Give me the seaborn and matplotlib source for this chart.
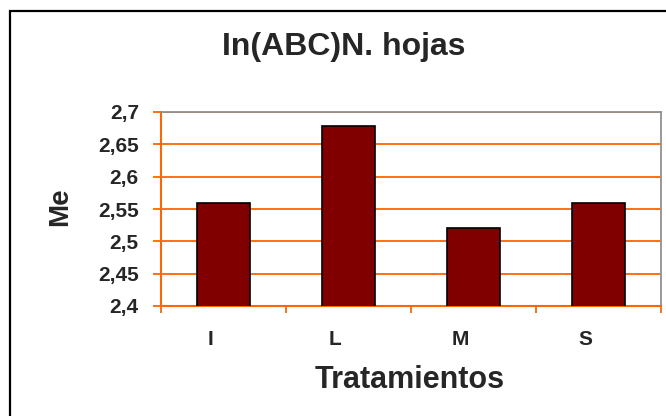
import matplotlib
matplotlib.use("Agg")
import matplotlib.pyplot as plt
import matplotlib.patches as mpatches
import matplotlib.transforms as mtransforms
import seaborn as sns
import pandas as pd
import numpy as np

categories = ["I", "L", "M", "S"]
values = [2.559, 2.678, 2.52, 2.559]
y_ticks = [2.4, 2.45, 2.5, 2.55, 2.6, 2.65, 2.7]
y_tick_labels = ["2,4", "2,45", "2,5", "2,55", "2,6", "2,65", "2,7"]

df = pd.DataFrame({"Tratamientos": categories, "Me": values})

sns.set_theme(style="white")
plt.rcParams['font.family'] = ['Liberation Sans', 'DejaVu Sans']
plt.rcParams['font.weight'] = 'bold'

W, H = 666, 416
fig = plt.figure(figsize=(W / 100, H / 100), dpi=100)
fig.patch.set_facecolor("white")

orange = "#FF6600"
ax = fig.add_axes([161 / W, 1 - 306 / H, (661 - 161) / W, (306 - 112) / H])

sns.barplot(data=df, x="Tratamientos", y="Me", order=categories, ax=ax,
            color="#800000", saturation=1, width=0.42,
            edgecolor="black", linewidth=1.2, zorder=3)

ax.set_ylim(2.4, 2.7)
ax.set_xlim(-0.5, len(categories) - 0.5)
ax.set_yticks(y_ticks)
ax.set_yticklabels(y_tick_labels, fontsize=15, fontweight="bold")
ax.set_xticks(range(len(categories)))
ax.set_xticklabels(categories, fontsize=15, fontweight="bold")
ax.set_xticks(np.arange(-0.5, len(categories), 1.0), minor=True)

ax.yaxis.grid(True, color=orange, linewidth=1.3, zorder=0)
ax.set_axisbelow(True)
ax.tick_params(axis="y", which="major", length=6, width=1.3, color=orange,
               pad=10, left=True)
ax.tick_params(axis="x", which="major", length=0, pad=17)
ax.tick_params(axis="x", which="minor", length=5, width=1.3, color=orange,
               bottom=True)

offset = mtransforms.ScaledTranslation(-13 / 100, 0, fig.dpi_scale_trans)
for lbl in ax.get_xticklabels():
    lbl.set_transform(lbl.get_transform() + offset)

for side in ["left", "bottom"]:
    ax.spines[side].set_color(orange)
    ax.spines[side].set_linewidth(1.5)
for side in ["top", "right"]:
    ax.spines[side].set_color("#909090")
    ax.spines[side].set_linewidth(1.3)

ax.set_xlabel("Tratamientos", fontsize=22, fontweight="bold")
ax.set_ylabel("Me", fontsize=20, fontweight="bold")
ax.xaxis.set_label_coords((410 - 161) / 500, -(380 - 306) / 194)
ax.xaxis.label.set_va("center")
ax.yaxis.set_label_coords(-(161 - 60) / 500, (306 - 207) / 194)
ax.yaxis.label.set_va("center")

fig.text(344 / W, 1 - 47 / H, "In(ABC)N. hojas", ha="center", va="center",
         fontsize=23, fontweight="bold")

border = mpatches.Rectangle((9.5 / W, -0.05), 1.2, 1.05 - 11 / H,
                            transform=fig.transFigure, fill=False,
                            edgecolor="black", linewidth=1.6, clip_on=False)
fig.patches.append(border)

fig.savefig("out.png", dpi=100, facecolor="white")
